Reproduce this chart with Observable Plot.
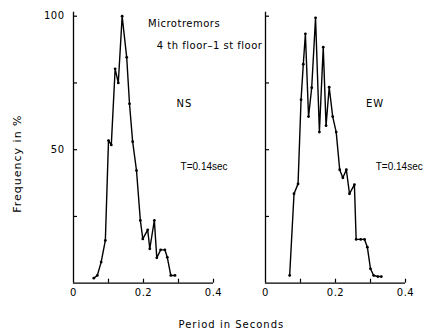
<!DOCTYPE html>
<html>
<head>
<meta charset="utf-8">
<script src="https://cdn.jsdelivr.net/npm/d3@7"></script>
<script src="https://cdn.jsdelivr.net/npm/@observablehq/plot@0.6"></script>
<style>
  html, body { margin: 0; padding: 0; background: #fff; }
  .chart text { letter-spacing: 0.5px; }
  .chart .wide text { letter-spacing: 1px; }
  .chart .tight text { letter-spacing: 0px; font-family: "Liberation Sans", sans-serif; }
</style>
</head>
<body>
<div id="chart"></div>
<script>
// Panels (components)
const panels = ["NS", "EW"];

// NS component: period (s) and frequency (%)
const nsPeriod = [0.058, 0.068, 0.079, 0.091, 0.100, 0.108, 0.119, 0.128, 0.139, 0.152, 0.160, 0.169,
                  0.180, 0.191, 0.198, 0.212, 0.218, 0.231, 0.238, 0.249, 0.261, 0.268, 0.278, 0.290];
const nsFreq   = [1.9, 2.9, 7.9, 16, 53.4, 51.8, 80.3, 75, 100, 84.6, 67.2, 53,
                  42.2, 23.5, 16.6, 20, 12.9, 23.5, 9.5, 12.5, 12.5, 9.7, 2.9, 2.9];

// EW component: period (s) and frequency (%)
const ewPeriod = [0.069, 0.0815, 0.093, 0.1016, 0.108, 0.114, 0.123, 0.132, 0.143, 0.154, 0.165, 0.173,
                  0.182, 0.192, 0.202, 0.212, 0.221, 0.231, 0.240, 0.254, 0.259, 0.272, 0.283, 0.291,
                  0.300, 0.309, 0.321, 0.331];
const ewFreq   = [2.9, 33.5, 37.2, 68.7, 82, 93.4, 62.4, 73.2, 99.4, 56.6, 88.4, 59,
                  73.4, 62.4, 56.6, 42.5, 39.5, 42.5, 33.5, 36.9, 16.4, 16.4, 16.4, 13.5,
                  5.4, 2.9, 2.5, 2.5];

// Ticks
const xTicks = [0.1, 0.2, 0.3, 0.4];
const xTickLabels = [0, 0.2, 0.4];
const yTicks = [25, 50, 75, 100];
const yTickLabels = [50, 100];

// Texts
const title = "Microtremors";
const subtitle = "4 th floor–1 st floor";
const periodText = "T=0.14sec";
const xLabel = "Period in Seconds";
const yLabel = "Frequency in %";

const rows = [
  ...nsPeriod.map((p, i) => ({panel: "NS", period: p, freq: nsFreq[i]})),
  ...ewPeriod.map((p, i) => ({panel: "EW", period: p, freq: ewFreq[i]}))
];

const ink = "#000";

const chart = Plot.plot({
  className: "chart",
  width: 430,
  height: 332,
  marginLeft: 72,
  marginRight: 24,
  marginTop: 11.7,
  marginBottom: 49.3,
  style: {fontFamily: "DejaVu Sans", fontSize: "10px", color: ink, background: "#fff"},
  fx: {domain: panels, paddingInner: 0.2694, paddingOuter: 0, axis: null, label: null},
  x: {domain: [0, 0.4], label: null},
  y: {domain: [0, 101.5], label: null},
  marks: [
    Plot.ruleX([0], {stroke: ink, strokeWidth: 1.3}),
    Plot.ruleY([0], {stroke: ink, strokeWidth: 1.3}),
    Plot.axisY({ticks: yTicks, tickSize: -4, tickFormat: () => "", facetAnchor: null, stroke: ink, strokeWidth: 1.2, label: null}),
    Plot.axisY({ticks: yTickLabels, tickSize: 0, tickPadding: 9, facetAnchor: "left", fill: ink, label: null}),
    Plot.axisX({ticks: xTicks, tickSize: -4, tickFormat: () => "", stroke: ink, strokeWidth: 1.2, label: null}),
    Plot.axisX({ticks: xTickLabels, tickSize: 0, tickPadding: 6, tickFormat: d3.format(".1~f"), fill: ink, label: null}),
    Plot.line(rows, {fx: "panel", x: "period", y: "freq", stroke: ink, strokeWidth: 1.4}),
    Plot.dot(rows, {fx: "panel", x: "period", y: "freq", r: 1.4, fill: ink, stroke: "none"}),
    Plot.text([title], {fx: ["NS"], x: [0.213], y: [97.3], textAnchor: "start", fill: ink}),
    Plot.text([subtitle], {fx: ["NS"], x: [0.238], y: [89], textAnchor: "start", fill: ink}),
    Plot.text(["NS"], {fx: ["NS"], x: [0.294], y: [67.2], textAnchor: "start", fill: ink, className: "wide"}),
    Plot.text(["EW"], {fx: ["EW"], x: [0.287], y: [67.3], textAnchor: "start", fill: ink, className: "wide"}),
    Plot.text([periodText, periodText], {fx: ["NS", "EW"], x: [0.306, 0.315], y: [43.7, 43.7], textAnchor: "start", fill: ink, className: "tight"}),
    Plot.text([xLabel], {fx: ["NS"], x: [0.451], y: [-15.5], textAnchor: "middle", fill: ink, className: "wide"}),
    Plot.text([yLabel], {fx: ["NS"], x: [-0.159], y: [44.8], rotate: -90, fontSize: 11, fill: ink, className: "wide"})
  ]
});
document.getElementById("chart").appendChild(chart);
</script>
</body>
</html>
